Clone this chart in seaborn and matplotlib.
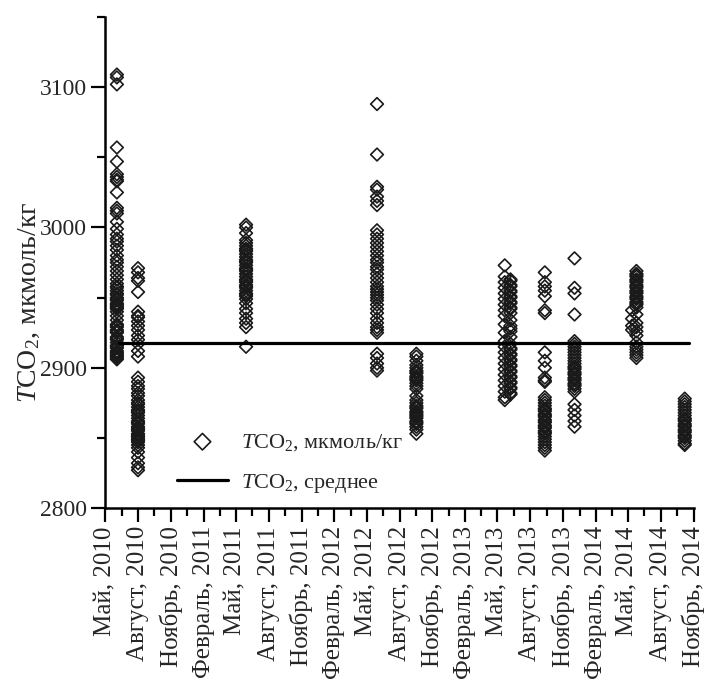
import pandas as pd
import seaborn as sns
import matplotlib
matplotlib.use("Agg")
import matplotlib.pyplot as plt
import matplotlib.dates as mdates
from matplotlib.ticker import FixedLocator, FuncFormatter

# TCO2 (мкмоль/кг) по съёмкам
tco2_jun2010 = [3109, 3107, 3102, 3057, 3047, 3038, 3036, 3034, 3033, 3025, 3014, 3012, 3010,
                3004, 2999, 2995, 2992, 2990, 2987, 2984, 2980, 2977, 2975, 2972, 2969, 2966,
                2963, 2960, 2958, 2957, 2955, 2953, 2952, 2950, 2949, 2948, 2946, 2945, 2944,
                2943, 2942, 2940, 2937, 2934, 2931, 2930, 2929, 2927, 2926, 2925, 2922, 2921,
                2920, 2918, 2916, 2915, 2914, 2912, 2911, 2910, 2909, 2908, 2907, 2906]
tco2_aug2010 = [2971, 2968, 2964, 2962, 2954, 2940, 2937, 2936, 2933, 2930, 2927, 2923, 2920,
                2917, 2912, 2908, 2893, 2890, 2887, 2885, 2882, 2880, 2877, 2875, 2874, 2872,
                2870, 2869, 2868, 2866, 2864, 2862, 2861, 2860, 2858, 2857, 2856, 2855, 2853,
                2852, 2851, 2850, 2849, 2848, 2847, 2845, 2843, 2840, 2836, 2832, 2829, 2827]
tco2_may2011 = [3002, 3000, 2996, 2991, 2989, 2987, 2985, 2984, 2983, 2981, 2979, 2977, 2976,
                2975, 2973, 2971, 2970, 2969, 2967, 2965, 2963, 2962, 2961, 2959, 2958, 2957,
                2955, 2953, 2952, 2951, 2949, 2946, 2942, 2939, 2935, 2932, 2929, 2915]
tco2_may2012 = [3088, 3052, 3029, 3027, 3022, 3019, 3016, 2998, 2995, 2992, 2989, 2986, 2983,
                2980, 2977, 2975, 2972, 2970, 2967, 2964, 2961, 2958, 2956, 2954, 2952, 2950,
                2948, 2945, 2942, 2939, 2935, 2932, 2929, 2927, 2925, 2910, 2907, 2903, 2900,
                2898]
tco2_sep2012 = [2910, 2908, 2905, 2902, 2900, 2898, 2897, 2896, 2894, 2893, 2892, 2891, 2889,
                2887, 2885, 2880, 2877, 2875, 2873, 2872, 2871, 2869, 2868, 2867, 2866, 2865,
                2864, 2862, 2861, 2860, 2858, 2856, 2853]
tco2_may2013a = [2973, 2965, 2961, 2957, 2953, 2949, 2945, 2941, 2937, 2931, 2925, 2919, 2915,
                 2911, 2907, 2903, 2899, 2895, 2891, 2887, 2883, 2879, 2877]
tco2_jun2013b = [2963, 2962, 2959, 2958, 2955, 2954, 2951, 2950, 2947, 2946, 2943, 2942, 2939,
                 2934, 2930, 2928, 2926, 2922, 2917, 2914, 2913, 2910, 2909, 2906, 2905, 2902,
                 2901, 2898, 2897, 2894, 2893, 2890, 2889, 2886, 2885, 2882, 2881]
tco2_sep2013 = [2968, 2961, 2958, 2955, 2951, 2941, 2939, 2911, 2905, 2900, 2893, 2891, 2890,
                2879, 2877, 2875, 2873, 2871, 2870, 2869, 2867, 2866, 2865, 2863, 2862, 2861,
                2859, 2858, 2857, 2855, 2854, 2853, 2851, 2849, 2847, 2845, 2843, 2841]
tco2_dec2013 = [2978, 2957, 2953, 2938, 2919, 2917, 2915, 2913, 2911, 2909, 2907, 2905, 2903,
                2901, 2900, 2899, 2897, 2896, 2895, 2893, 2892, 2891, 2889, 2888, 2887, 2885,
                2883, 2874, 2870, 2866, 2862, 2858]
tco2_may2014a = [2941, 2935, 2930, 2927]
tco2_may2014b = [2969, 2967, 2966, 2965, 2963, 2962, 2961, 2959, 2958, 2957, 2955, 2954, 2953,
                 2951, 2950, 2949, 2947, 2946, 2945, 2943, 2938, 2932, 2929, 2926, 2923, 2918,
                 2915, 2913, 2911, 2909, 2907]
tco2_oct2014 = [2878, 2876, 2874, 2872, 2870, 2868, 2866, 2864, 2863, 2862, 2860, 2859, 2858,
                2856, 2855, 2854, 2852, 2851, 2850, 2848, 2846, 2845]

sample_dates = ['2010-06-03', '2010-08-01', '2011-05-30', '2012-05-30', '2012-09-17',
                '2013-05-22', '2013-06-07', '2013-09-11', '2013-12-03', '2014-05-13',
                '2014-05-25', '2014-10-07']
sample_values = [tco2_jun2010, tco2_aug2010, tco2_may2011, tco2_may2012, tco2_sep2012,
                 tco2_may2013a, tco2_jun2013b, tco2_sep2013, tco2_dec2013, tco2_may2014a,
                 tco2_may2014b, tco2_oct2014]

mean_tco2 = 2918
mean_span = ['2010-06-10', '2014-10-19']

month_names = {2: 'Февраль', 5: 'Май', 8: 'Август', 11: 'Ноябрь'}
x_start, x_end = '2010-05-01', '2014-11-01'

label_scatter = r'$T$CO$_2$, мкмоль/кг'
label_mean = r'$T$CO$_2$, среднее'

rows = []
for d, vals in zip(sample_dates, sample_values):
    for v in vals:
        rows.append({'date': pd.Timestamp(d), 'tco2': v})
df = pd.DataFrame(rows)
mean_df = pd.DataFrame({'date': pd.to_datetime(mean_span), 'tco2': [mean_tco2, mean_tco2]})

sns.set_style('ticks')
plt.rcParams['font.family'] = ['Liberation Serif', 'DejaVu Serif']
plt.rcParams['mathtext.fontset'] = 'custom'
plt.rcParams['mathtext.rm'] = 'Liberation Serif'
plt.rcParams['mathtext.it'] = 'Liberation Serif:italic'

fig = plt.figure(figsize=(7.1, 6.82), dpi=100)
ax = fig.add_axes([0.148, 0.255, 0.829, 0.72])

sns.scatterplot(data=df, x='date', y='tco2', ax=ax, marker='D', s=42,
                facecolor='none', edgecolor='#1a1a1a', linewidth=1.2, label=label_scatter)
sns.lineplot(data=mean_df, x='date', y='tco2', ax=ax, color='black', linewidth=2.3,
             label=label_mean)

ax.set_ylim(2800, 3150)
ax.yaxis.set_major_locator(FixedLocator([2800, 2900, 3000, 3100]))
ax.yaxis.set_minor_locator(FixedLocator([2850, 2950, 3050, 3150]))

ax.set_xlim(pd.Timestamp(x_start), pd.Timestamp(x_end))
majors = pd.date_range(x_start, x_end, freq='3MS')
major_nums = mdates.date2num(majors)
minor_nums = (major_nums[:-1] + major_nums[1:]) / 2
ax.xaxis.set_major_locator(FixedLocator(major_nums))
ax.xaxis.set_minor_locator(FixedLocator(minor_nums))


def fmt_month(x, pos):
    d = mdates.num2date(x)
    return f'{month_names.get(d.month, "")}, {d.year}'


ax.xaxis.set_major_formatter(FuncFormatter(fmt_month))
plt.setp(ax.get_xticklabels(), rotation=90, fontsize=18)
plt.setp(ax.get_yticklabels(), fontsize=17)

ax.tick_params(which='major', direction='out', length=10, width=1.6, color='black', pad=3)
ax.tick_params(which='minor', direction='out', length=6, width=1.6, color='black')
for side in ['top', 'right']:
    ax.spines[side].set_visible(False)
for side in ['left', 'bottom']:
    ax.spines[side].set_linewidth(1.8)
    ax.spines[side].set_color('black')

ax.set_xlabel('')
ax.set_ylabel(label_scatter, fontsize=20)
ax.yaxis.set_label_coords(-0.107, 0.42)

ax.legend(loc='upper left', bbox_to_anchor=(0.122, 0.155), frameon=False, fontsize=16,
          markerscale=1.3, handlelength=2.3, handletextpad=0.6, labelspacing=0.85,
          borderpad=0, borderaxespad=0)

fig.savefig('out.png', dpi=100)
